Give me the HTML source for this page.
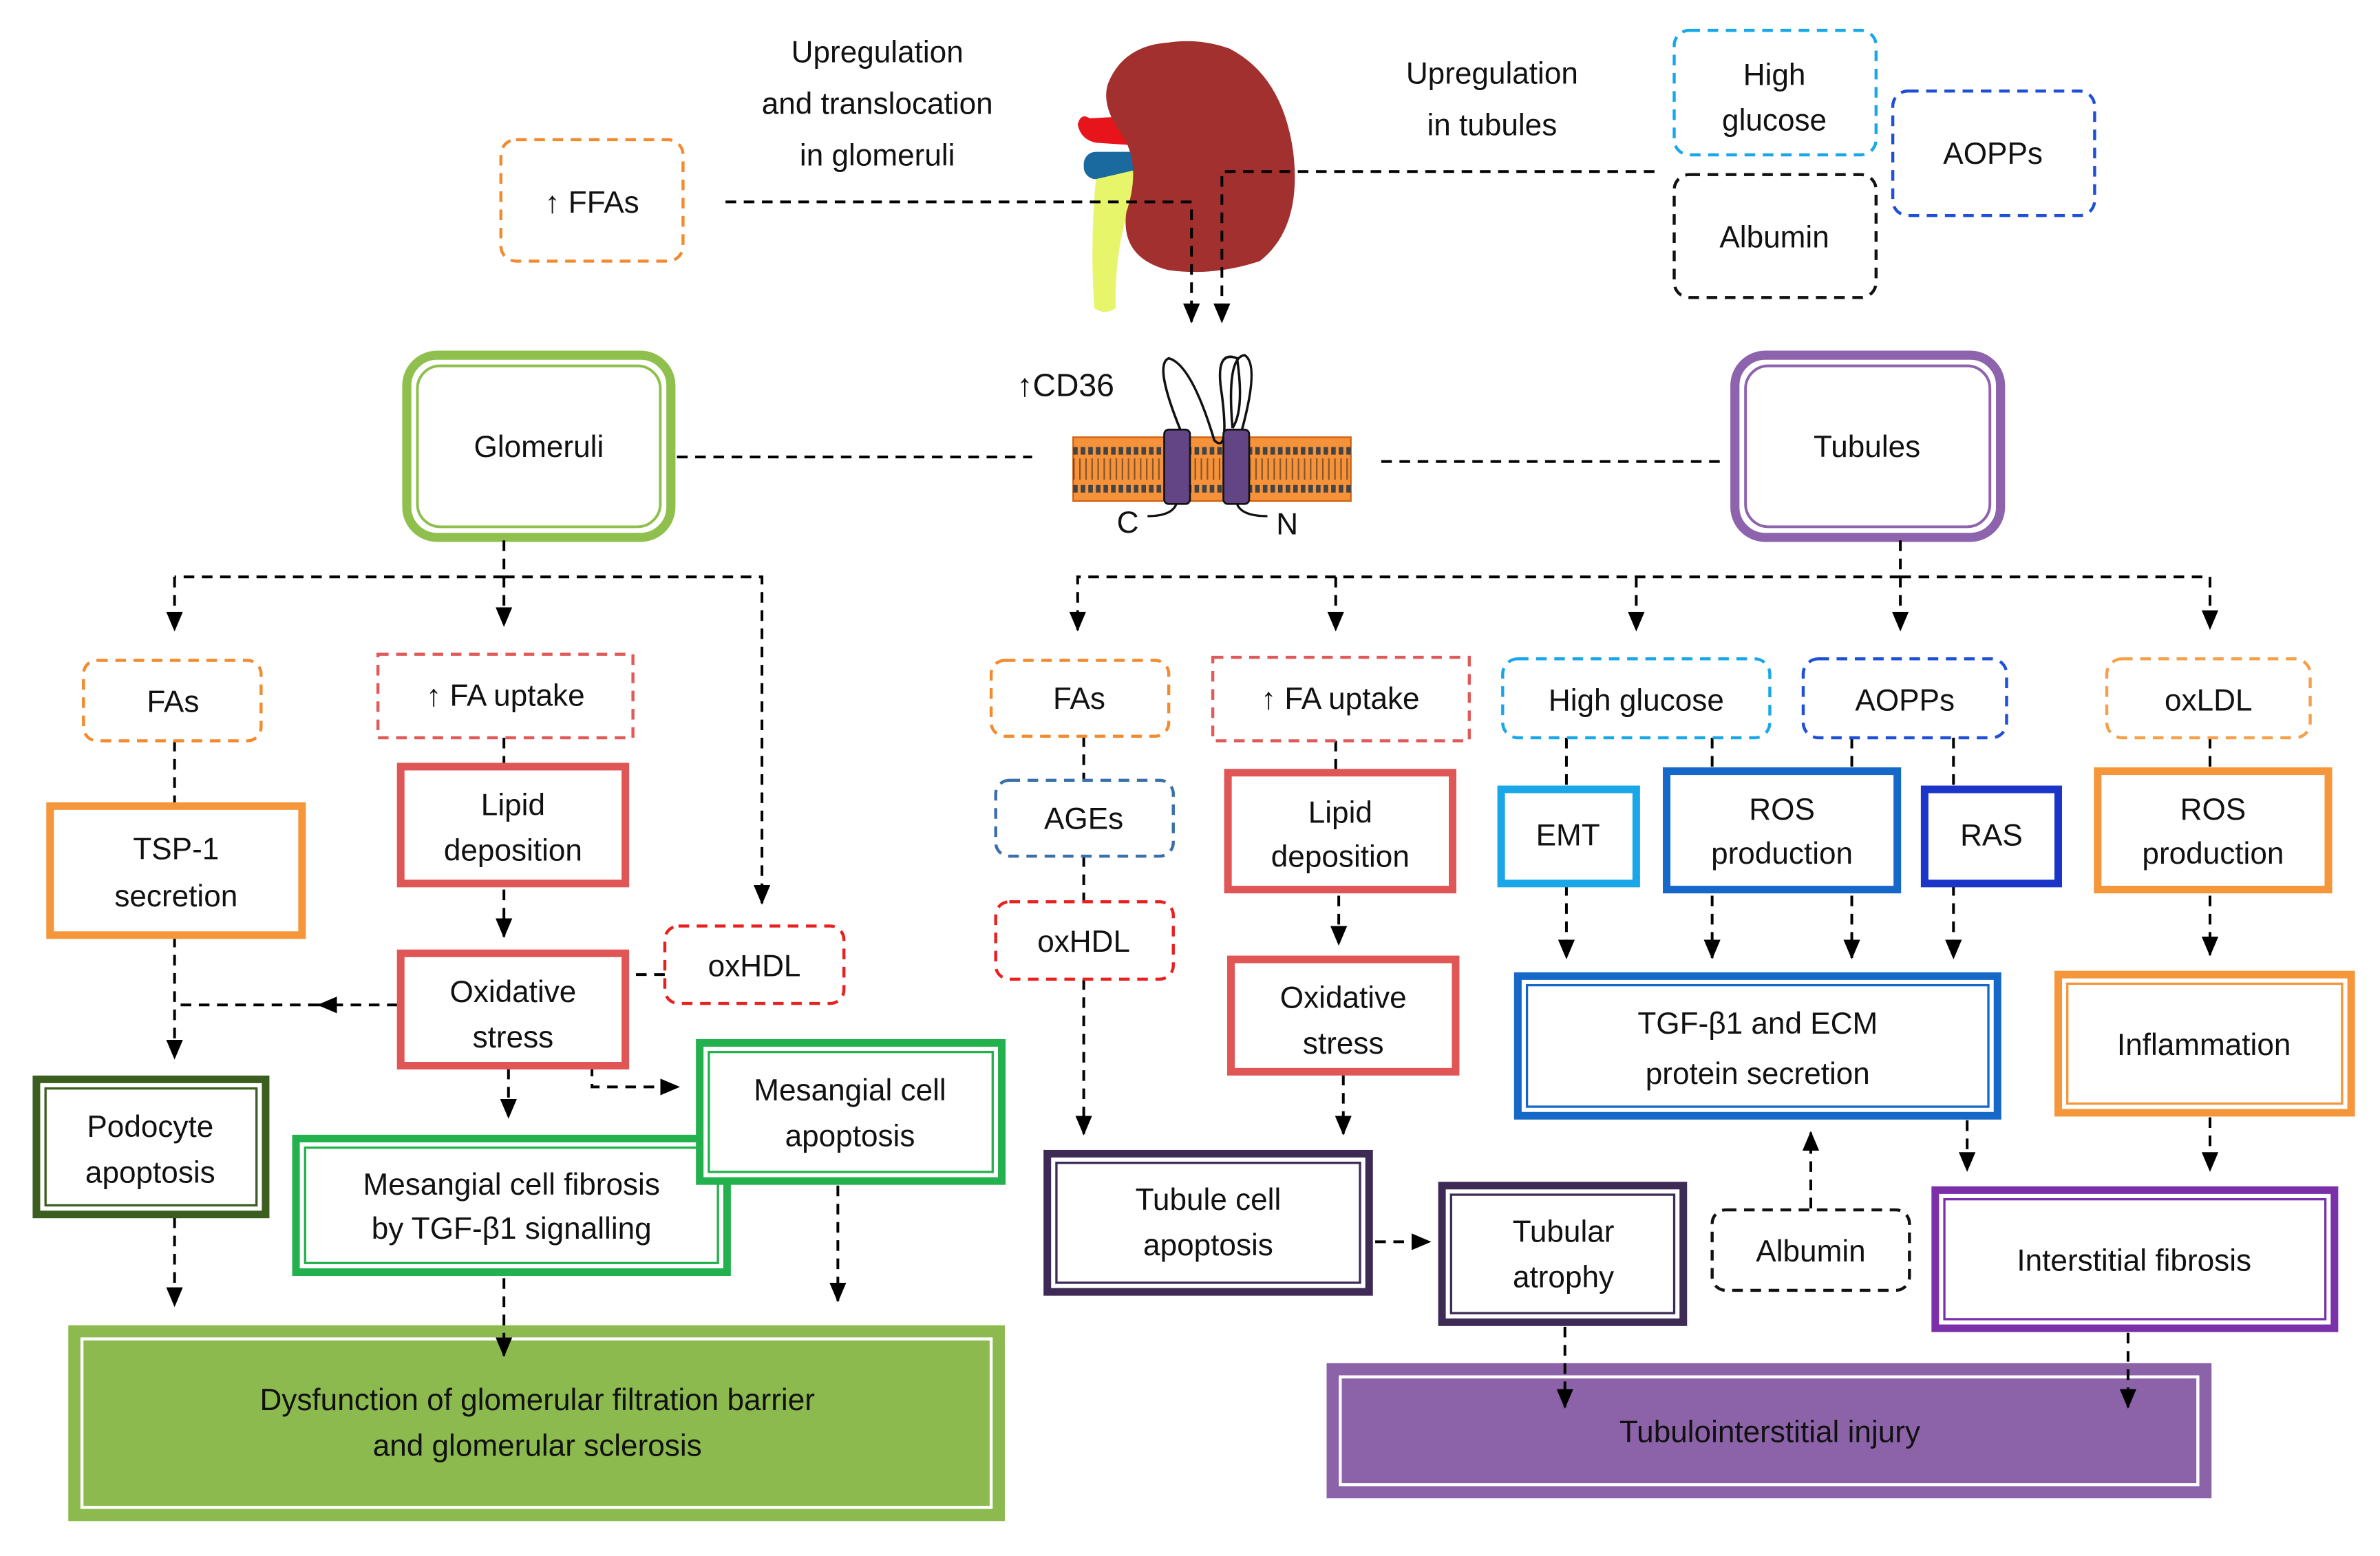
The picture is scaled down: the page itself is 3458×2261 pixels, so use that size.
<!DOCTYPE html>
<html><head><meta charset="utf-8"><style>
html,body{margin:0;padding:0;background:#fff;}
svg{display:block;}
text{font-family:"Liberation Sans",sans-serif;font-size:20px;fill:#111;text-anchor:middle;}
</style></head><body>
<svg width="3458" height="2261" viewBox="0 0 1568 1025" preserveAspectRatio="none" xmlns="http://www.w3.org/2000/svg">
<defs>
<marker id="a" markerWidth="13" markerHeight="11" refX="12" refY="5.5" orient="auto" markerUnits="userSpaceOnUse" viewBox="0 0 13 11">
<path d="M0,0 L13,5.5 L0,11 Z" fill="#000"/>
</marker>
</defs>
<rect width="1568" height="1025" fill="#fff"/>

<text x="578" y="41">Upregulation</text>
<text x="578" y="75">and translocation</text>
<text x="578" y="109">in glomeruli</text>
<text x="983" y="55">Upregulation</text>
<text x="983" y="89">in tubules</text>

<!-- kidney -->
<path d="M718,78 Q712,74 710,82 Q712,92 722,94 L752,96 L752,76 Z" fill="#e8141c"/>
<rect x="714" y="100" width="40" height="18" rx="8" fill="#1a6aa0"/>
<path d="M722,118 Q718,160 721,203 Q728,208 735,203 Q734,160 748,125 L748,112 Z" fill="#e6f56a"/>
<path d="M770,28 Q740,30 730,55 Q725,70 740,90 Q752,110 742,140 Q738,170 770,178 Q800,182 830,172 Q858,150 852,100 Q845,50 810,32 Q790,25 770,28 Z" fill="#a1302f"/>

<rect x="330" y="92" width="120" height="80" rx="10" fill="none" stroke="#f28a2e" stroke-width="2" stroke-dasharray="7 5"/>
<text x="390" y="140">↑ FFAs</text>

<rect x="1103" y="20" width="133" height="82" rx="10" fill="#fff" stroke="#1aa7e8" stroke-width="2" stroke-dasharray="7 5"/>
<text x="1169" y="56">High</text><text x="1169" y="86">glucose</text>
<rect x="1103" y="115" width="133" height="81" rx="10" fill="#fff" stroke="#111" stroke-width="2" stroke-dasharray="7 5"/>
<text x="1169" y="163">Albumin</text>
<rect x="1247" y="60" width="133" height="82" rx="10" fill="#fff" stroke="#1f4fd6" stroke-width="2" stroke-dasharray="7 5"/>
<text x="1313" y="108">AOPPs</text>

<!-- CD36 membrane -->
<text x="702" y="261" style="font-size:21px">↑CD36</text>
<rect x="707" y="288" width="183" height="42" fill="#f5923a" stroke="#d06010" stroke-width="1"/>
<line x1="707" y1="297" x2="890" y2="297" stroke-dasharray="3 2" stroke-width="5" stroke="#444"/>
<line x1="707" y1="322" x2="890" y2="322" stroke-dasharray="3 2" stroke-width="5" stroke="#444"/>
<path d="M707,309 H890" stroke="#1b1b1b" stroke-width="14" stroke-dasharray="1 3" opacity="0.5"/>
<path d="M778,284 Q760,240 770,236 Q785,240 800,290 Q810,300 805,260 Q800,230 815,236 Q820,270 812,282 M812,282 Q808,235 820,234 Q830,240 818,284" fill="none" stroke="#111" stroke-width="1.6"/>
<rect x="767" y="283" width="17" height="49" rx="3" fill="#634585" stroke="#111" stroke-width="1.2"/>
<rect x="806" y="283" width="17" height="49" rx="3" fill="#634585" stroke="#111" stroke-width="1.2"/>
<path d="M775,332 Q772,340 756,340 M815,332 Q818,340 835,340" fill="none" stroke="#111" stroke-width="1.5"/>
<text x="743" y="351">C</text><text x="848" y="352">N</text>

<!-- Glomeruli / Tubules -->
<rect x="268" y="234" width="174" height="120" rx="20" fill="#fff" stroke="#8fc04e" stroke-width="6"/>
<rect x="275" y="241" width="160" height="106" rx="15" fill="none" stroke="#8fc04e" stroke-width="1.8"/>
<text x="355" y="301">Glomeruli</text>
<rect x="1143" y="234" width="175" height="120" rx="20" fill="#fff" stroke="#8e63ad" stroke-width="6"/>
<rect x="1150" y="241" width="161" height="106" rx="15" fill="none" stroke="#8e63ad" stroke-width="1.8"/>
<text x="1230" y="301">Tubules</text>

<g fill="none" stroke="#000" stroke-width="1.8" stroke-dasharray="7 5" marker-end="url(#a)">
<path d="M478,133 H785 V212"/>
<path d="M1090,113 H805 V212"/>
<path d="M115,380 V415"/>
<path d="M332,356 V412"/>
<path d="M332,380 H502 V595"/>
<path d="M1252,356 V415"/>
<path d="M1252,380 H710 V415"/>
<path d="M880,380 V415"/>
<path d="M1078,380 V415"/>
<path d="M1252,380 H1456 V414"/>
<path d="M115,617 V697"/>
<path d="M262,662 H210"/>
<path d="M332,586 V617"/>
<path d="M335,704 V736"/>
<path d="M438,642 H390 V716 H447"/>
<path d="M115,802 V860"/>
<path d="M552,781 V857"/>
<path d="M714,645 V747"/>
<path d="M882,590 V622"/>
<path d="M885,708 V747"/>
<path d="M906,818 H942"/>
<path d="M1032,583 V631"/>
<path d="M1128,590 V631"/>
<path d="M1220,590 V631"/>
<path d="M1287,583 V631"/>
<path d="M1456,590 V629"/>
<path d="M1456,736 V771"/>
<path d="M1296,738 V771"/>
<path d="M1193,796 V746"/>
</g>
<g fill="none" stroke="#000" stroke-width="1.8" stroke-dasharray="7 5">
<path d="M332,380 H115"/>
<path d="M446,301 H680"/>
<path d="M910,304 H1136"/>
<path d="M115,488 V530"/>
<path d="M210,662 H115"/>
<path d="M332,486 V503"/>
<path d="M714,485 V514"/>
<path d="M714,564 V594"/>
<path d="M880,488 V507"/>
<path d="M1032,486 V518"/>
<path d="M1128,486 V506"/>
<path d="M1220,486 V506"/>
<path d="M1287,486 V518"/>
<path d="M1456,486 V506"/>
</g>

<g fill="#fff" stroke-width="2" stroke-dasharray="7 5">
<rect x="55" y="435" width="117" height="53" rx="9" stroke="#f28a2e"/>
<rect x="249" y="431" width="168" height="55" stroke="#e05a5a"/>
<rect x="438" y="610" width="118" height="51" rx="9" stroke="#e82020"/>
<rect x="653" y="435" width="117" height="50" rx="9" stroke="#f28a2e"/>
<rect x="799" y="433" width="169" height="55" stroke="#e05a5a"/>
<rect x="990" y="434" width="176" height="52" rx="10" stroke="#1aa7e8"/>
<rect x="1188" y="434" width="134" height="52" rx="10" stroke="#1f4fd6"/>
<rect x="1388" y="434" width="134" height="52" rx="10" stroke="#f5a04a"/>
<rect x="656" y="514" width="117" height="50" rx="9" stroke="#3a6fa8"/>
<rect x="656" y="594" width="117" height="51" rx="9" stroke="#e82020"/>
<rect x="1128" y="797" width="130" height="53" rx="9" stroke="#111"/>
</g>
<text x="114" y="469">FAs</text>
<text x="333" y="465">↑ FA uptake</text>
<text x="497" y="643">oxHDL</text>
<text x="711" y="467">FAs</text>
<text x="883" y="467">↑ FA uptake</text>
<text x="1078" y="468">High glucose</text>
<text x="1255" y="468">AOPPs</text>
<text x="1455" y="468">oxLDL</text>
<text x="714" y="546">AGEs</text>
<text x="714" y="627">oxHDL</text>
<text x="1193" y="831">Albumin</text>

<g fill="#fff" stroke-width="5">
<rect x="264" y="505" width="148" height="77" stroke="#e05555"/>
<rect x="33" y="531" width="166" height="85" stroke="#f5963a"/>
<rect x="264" y="628" width="148" height="74" stroke="#e05555"/>
<rect x="809" y="509" width="148" height="77" stroke="#e05555"/>
<rect x="811" y="632" width="148" height="74" stroke="#e05555"/>
<rect x="989" y="520" width="89" height="62" stroke="#1aa7e8"/>
<rect x="1098" y="508" width="152" height="78" stroke="#1567c8"/>
<rect x="1268" y="520" width="88" height="62" stroke="#1a35c8"/>
<rect x="1382" y="508" width="152" height="78" stroke="#f5963a"/>
</g>
<text x="338" y="537">Lipid</text><text x="338" y="567">deposition</text>
<text x="116" y="566">TSP-1</text><text x="116" y="597">secretion</text>
<text x="338" y="660">Oxidative</text><text x="338" y="690">stress</text>
<text x="883" y="542">Lipid</text><text x="883" y="571">deposition</text>
<text x="885" y="664">Oxidative</text><text x="885" y="694">stress</text>
<text x="1033" y="557">EMT</text>
<text x="1174" y="540">ROS</text><text x="1174" y="569">production</text>
<text x="1312" y="557">RAS</text>
<text x="1458" y="540">ROS</text><text x="1458" y="569">production</text>

<g fill="#fff">
<rect x="24" y="711" width="151" height="89" stroke="#3b5e1f" stroke-width="5"/>
<rect x="30" y="717" width="139" height="77" fill="none" stroke="#3b5e1f" stroke-width="1.5"/>
<rect x="195" y="750" width="284" height="88" stroke="#22b14c" stroke-width="5"/>
<rect x="201" y="756" width="272" height="76" fill="none" stroke="#22b14c" stroke-width="1.5"/>
<rect x="461" y="687" width="199" height="91" stroke="#22b14c" stroke-width="5"/>
<rect x="467" y="693" width="187" height="79" fill="none" stroke="#22b14c" stroke-width="1.5"/>
<rect x="1000" y="643" width="316" height="92" stroke="#1567c8" stroke-width="5"/>
<rect x="1006" y="649" width="304" height="80" fill="none" stroke="#1567c8" stroke-width="1.5"/>
<rect x="1356" y="642" width="193" height="91" stroke="#f5963a" stroke-width="5"/>
<rect x="1362" y="648" width="181" height="79" fill="none" stroke="#f5963a" stroke-width="1.5"/>
<rect x="690" y="760" width="212" height="91" stroke="#3d2b56" stroke-width="5"/>
<rect x="696" y="766" width="200" height="79" fill="none" stroke="#3d2b56" stroke-width="1.5"/>
<rect x="950" y="781" width="159" height="90" stroke="#3d2b56" stroke-width="5"/>
<rect x="956" y="787" width="147" height="78" fill="none" stroke="#3d2b56" stroke-width="1.5"/>
<rect x="1275" y="784" width="263" height="91" stroke="#7b2fa8" stroke-width="5"/>
<rect x="1281" y="790" width="251" height="79" fill="none" stroke="#7b2fa8" stroke-width="1.5"/>
</g>
<text x="99" y="749">Podocyte</text><text x="99" y="779">apoptosis</text>
<text x="337" y="787">Mesangial cell fibrosis</text><text x="337" y="816">by TGF-β1 signalling</text>
<text x="560" y="725">Mesangial cell</text><text x="560" y="755">apoptosis</text>
<text x="1158" y="681">TGF-β1 and ECM</text><text x="1158" y="714">protein secretion</text>
<text x="1452" y="695">Inflammation</text>
<text x="796" y="797">Tubule cell</text><text x="796" y="827">apoptosis</text>
<text x="1030" y="818">Tubular</text><text x="1030" y="848">atrophy</text>
<text x="1406" y="837">Interstitial fibrosis</text>

<rect x="47" y="875" width="613" height="125" fill="#8cba4e" stroke="#8cba4e" stroke-width="4"/>
<rect x="54" y="882" width="599" height="111" fill="none" stroke="#fff" stroke-width="2"/>
<text x="354" y="929">Dysfunction of glomerular filtration barrier</text>
<text x="354" y="959">and glomerular sclerosis</text>
<rect x="876" y="900" width="579" height="85" fill="#8c63a8" stroke="#8c63a8" stroke-width="4"/>
<rect x="883" y="907" width="565" height="71" fill="none" stroke="#fff" stroke-width="2"/>
<text x="1166" y="950">Tubulointerstitial injury</text>

<g fill="none" stroke="#000" stroke-width="1.8" stroke-dasharray="7 5" marker-end="url(#a)">
<path d="M332,842 V893"/>
<path d="M1031,874 V927"/>
<path d="M1402,878 V927"/>
</g>
</svg>
</body></html>
